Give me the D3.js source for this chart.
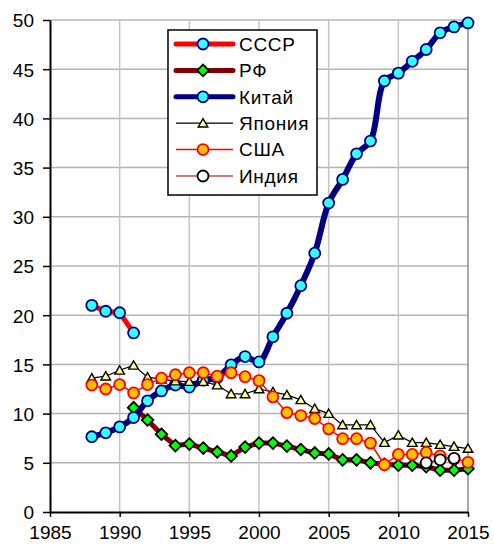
<!DOCTYPE html>
<html>
<head>
<meta charset="utf-8">
<script src="https://cdn.jsdelivr.net/npm/d3@7"></script>
<style>
  body { margin: 0; background: #fff; }
  text { font-family: "Liberation Sans", Arial, sans-serif; }
</style>
</head>
<body>
<div id="chart"></div>
<script>
// data
const ussrYears = [1988, 1989, 1990, 1991];
const ussrValues = [21.0, 20.4, 20.25, 18.2];

const rfYears = d3.range(1991, 2016);
const rfValues = [10.6, 9.35, 7.9, 6.75, 6.9, 6.5, 6.1, 5.7, 6.6, 7.0, 7.0, 6.7, 6.35, 6.0, 5.9,
    5.3, 5.3, 5.0, 4.85, 4.75, 4.75, 4.6, 4.25, 4.25, 4.4];

const chinaYears = d3.range(1988, 2016);
const chinaValues = [7.65, 8.05, 8.65, 9.6, 11.3, 12.3, 12.9, 12.7, 13.4, 13.65, 14.95, 15.8, 15.25,
    17.8, 20.2, 23.0, 26.3, 31.4, 33.8, 36.4, 37.7, 43.8, 44.6, 45.8, 47.0, 48.7, 49.3, 49.7];

const japanYears = d3.range(1988, 2016);
const japanValues = [13.6, 13.8, 14.4, 14.9, 13.7, 13.5, 13.3, 13.25, 13.25, 12.9, 12.0, 12.0, 12.5,
    12.2, 11.9, 11.4, 10.5, 10.0, 8.85, 8.85, 8.85, 7.05, 7.8, 7.05, 7.05, 6.85, 6.65, 6.45];

const usaYears = d3.range(1988, 2016);
const usaValues = [12.9, 12.5, 12.95, 12.1, 12.95, 13.6, 13.95, 14.15, 14.15, 13.8, 14.15, 13.75, 13.35,
    11.7, 10.1, 9.8, 9.5, 8.45, 7.45, 7.45, 7.0, 4.8, 5.85, 5.85, 6.05, 5.7, 5.4, 5.05];

const indiaYears = [2012, 2013, 2014];
const indiaValues = [5.0, 5.3, 5.45];

const xTicks = [1985, 1990, 1995, 2000, 2005, 2010, 2015];
const yTicks = [0, 5, 10, 15, 20, 25, 30, 35, 40, 45, 50];

const series = [
    {name: "СССР", years: ussrYears, values: ussrValues, line: "#ff0000", lw: 5, marker: "circle", fill: "#33ffff", stroke: "#000080", smooth: false},
    {name: "РФ", years: rfYears, values: rfValues, line: "#800000", lw: 5, marker: "diamond", fill: "#00ff00", stroke: "#000000", smooth: false},
    {name: "Китай", years: chinaYears, values: chinaValues, line: "#000080", lw: 6, marker: "circle", fill: "#33ffff", stroke: "#000080", smooth: true},
    {name: "Япония", years: japanYears, values: japanValues, line: "#000000", lw: 1.2, marker: "triangle", fill: "#ffff99", stroke: "#000000", smooth: false},
    {name: "США", years: usaYears, values: usaValues, line: "#ff0000", lw: 1.5, marker: "circle", fill: "#ffc000", stroke: "#ff0000", smooth: false},
    {name: "Индия", years: indiaYears, values: indiaValues, line: "#800000", lw: 1.2, marker: "circle", fill: "#ffffff", stroke: "#000000", smooth: false}
];

const width = 494, height = 553;
const margin = {top: 20, right: 26, bottom: 41, left: 50};

const svg = d3.select("#chart").append("svg")
    .attr("width", width)
    .attr("height", height);

const x = d3.scaleLinear().domain([1985, 2015]).range([margin.left, width - margin.right]);
const y = d3.scaleLinear().domain([0, 50]).range([height - margin.bottom, margin.top]);

// grid
svg.append("g").selectAll("line").data(yTicks.filter(d => d > 0)).join("line")
    .attr("x1", x(1985)).attr("x2", x(2015))
    .attr("y1", d => y(d)).attr("y2", d => y(d))
    .style("stroke", "#b4b4b4").style("stroke-width", 1.5);
svg.append("g").selectAll("line").data(xTicks.filter(d => d > 1985)).join("line")
    .attr("x1", d => x(d)).attr("x2", d => x(d))
    .attr("y1", y(0)).attr("y2", y(50))
    .style("stroke", d => d === 2015 ? "#8c8c8c" : "#c4c4c4").style("stroke-width", 1.5);

// axes
const yAxis = svg.append("g")
    .attr("transform", "translate(" + x(1985) + ",0)")
    .call(d3.axisLeft(y).tickValues(yTicks).tickSize(7).tickSizeOuter(0));
const xAxis = svg.append("g")
    .attr("transform", "translate(0," + y(0) + ")")
    .call(d3.axisBottom(x).tickValues(xTicks).tickFormat(d3.format("d")).tickSize(5).tickSizeOuter(0));

[xAxis, yAxis].forEach(function(a) {
    a.select(".domain").style("stroke", "#000").style("stroke-width", 2);
    a.selectAll(".tick line").style("stroke", "#000").style("stroke-width", 1.5);
    a.selectAll(".tick text")
        .style("font-family", "'Liberation Sans', Arial, sans-serif")
        .style("font-size", "19px")
        .style("fill", "#000");
});
yAxis.selectAll(".tick text").attr("x", -16).attr("dy", "0.36em");
xAxis.selectAll(".tick text").attr("y", 14).attr("dy", "0.71em");

const symbols = {
    circle: d3.symbol().type(d3.symbolCircle).size(95),
    diamond: d3.symbol().type(d3.symbolSquare).size(68),
    triangle: d3.symbol().type(d3.symbolTriangle).size(40)
};

function markerTransform(s, px, py) {
    if (s.marker === "diamond") return "translate(" + px + "," + py + ") rotate(45)";
    if (s.marker === "triangle") return "translate(" + px + "," + (py + 1) + ")";
    return "translate(" + px + "," + py + ")";
}

// series
series.forEach(function(s) {
    const pts = s.years.map((yr, i) => [yr, s.values[i]]);
    const line = d3.line()
        .x(d => x(d[0])).y(d => y(d[1]))
        .curve(s.smooth ? d3.curveCatmullRom.alpha(0.5) : d3.curveLinear);

    svg.append("path")
        .datum(pts)
        .attr("d", line)
        .style("fill", "none")
        .style("stroke", s.line)
        .style("stroke-width", s.lw)
        .style("stroke-linejoin", "round")
        .style("stroke-linecap", "round");

    svg.append("g").selectAll("path").data(pts).join("path")
        .attr("d", symbols[s.marker])
        .attr("transform", d => markerTransform(s, x(d[0]), y(d[1])))
        .style("fill", s.fill)
        .style("stroke", s.stroke)
        .style("stroke-width", s.marker === "triangle" ? 1.4 : 1.8);
});

// legend
const legend = svg.append("g").attr("transform", "translate(168,30)");
legend.append("rect")
    .attr("x", 0).attr("y", 0)
    .attr("width", 149).attr("height", 165)
    .style("fill", "#fff").style("stroke", "#000").style("stroke-width", 1.5);

series.forEach(function(s, i) {
    const ly = 14 + i * 26.4;
    legend.append("line")
        .attr("x1", 8).attr("x2", 65)
        .attr("y1", ly).attr("y2", ly)
        .style("stroke", s.line)
        .style("stroke-width", s.lw > 3 ? 5 : s.lw)
        .style("stroke-linecap", s.lw > 3 ? "round" : "butt");
    legend.append("path")
        .attr("d", symbols[s.marker])
        .attr("transform", markerTransform(s, 35, ly))
        .style("fill", s.fill)
        .style("stroke", s.stroke)
        .style("stroke-width", s.marker === "triangle" ? 1.4 : 1.8);
    legend.append("text")
        .attr("x", 71).attr("y", ly)
        .attr("dy", "0.36em")
        .style("font-size", "19px")
        .style("letter-spacing", "0.7px")
        .style("fill", "#000")
        .text(s.name);
});
</script>
</body>
</html>
